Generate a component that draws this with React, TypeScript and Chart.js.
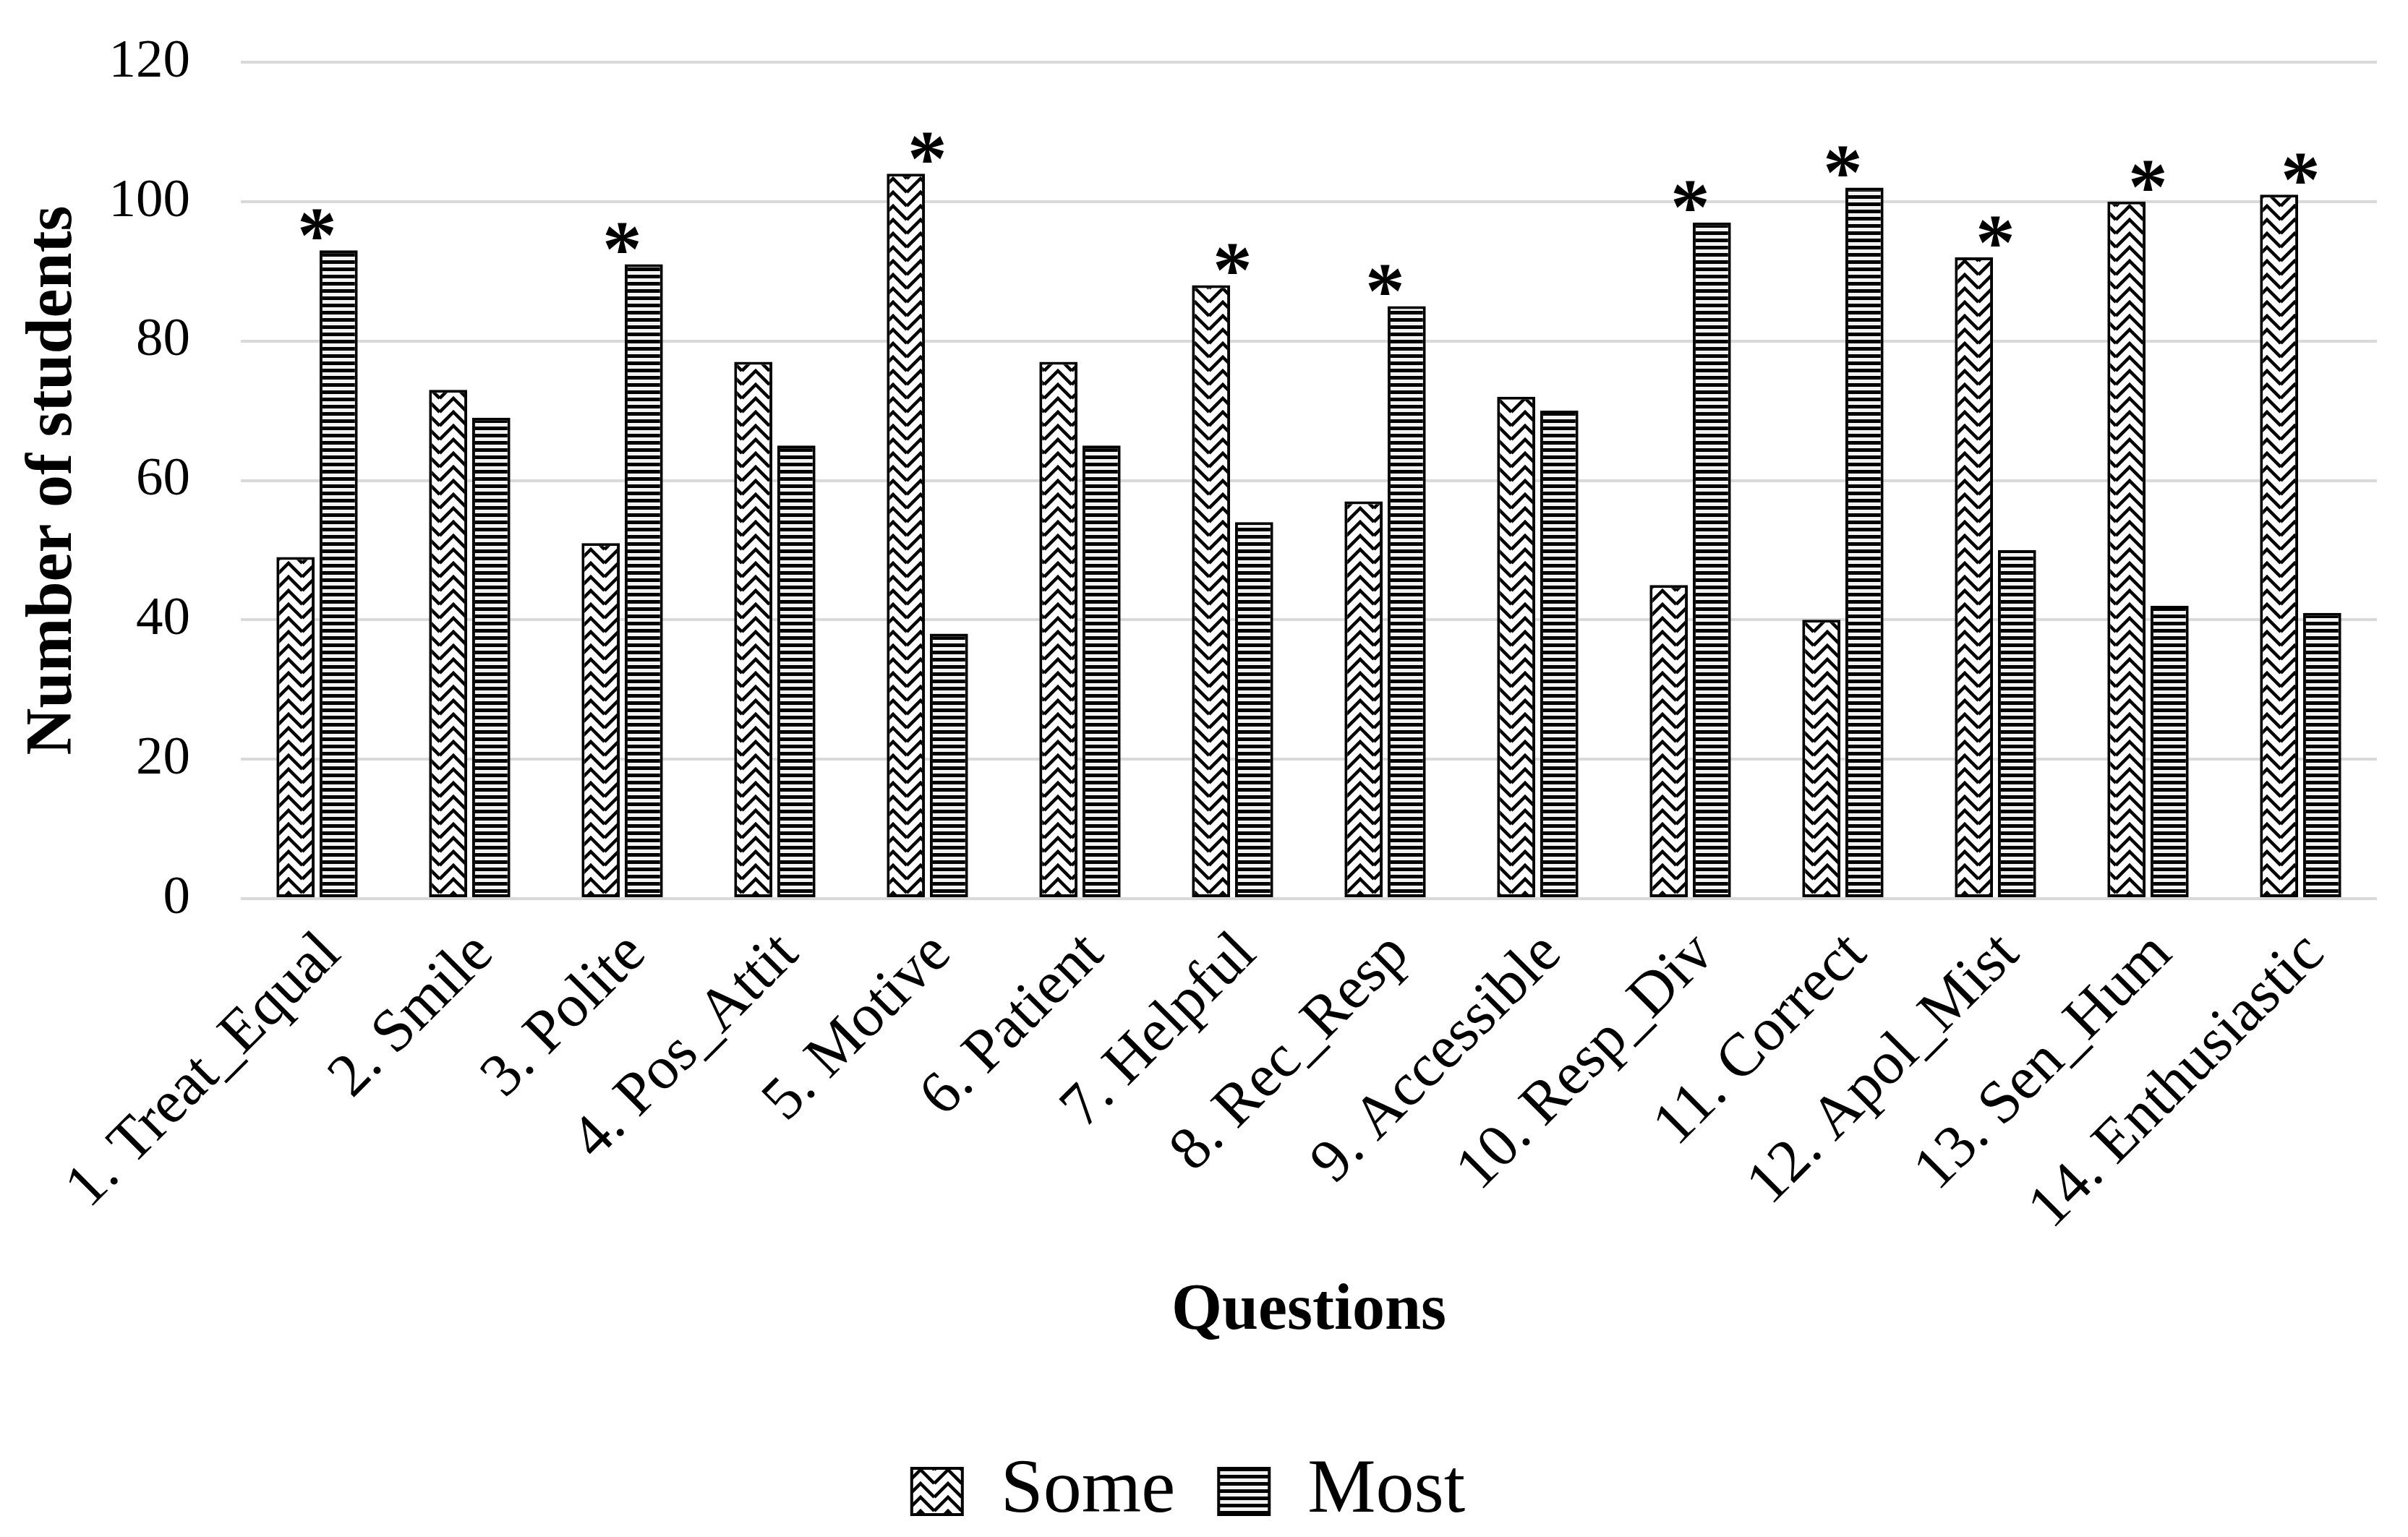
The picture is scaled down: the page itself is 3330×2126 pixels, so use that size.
import React, { useEffect, useRef } from "react";
import { Chart, registerables } from "chart.js";

Chart.register(...registerables);

// ---- data ----
const categories = [
  "1. Treat_Equal",
  "2. Smile",
  "3. Polite",
  "4. Pos_Attit",
  "5. Motive",
  "6. Patient",
  "7. Helpful",
  "8. Rec_Resp",
  "9. Accessible",
  "10. Resp_Div",
  "11. Correct",
  "12. Apol_Mist",
  "13. Sen_Hum",
  "14. Enthusiastic",
];
const seriesNames = ["Some", "Most"];
const someValues = [49, 73, 51, 77, 104, 77, 88, 57, 72, 45, 40, 92, 100, 101];
const mostValues = [93, 69, 91, 65, 38, 65, 54, 85, 70, 97, 102, 50, 42, 41];
const significant = [true, false, true, false, true, false, true, true, false, true, true, true, true, true];
const yTicks = [0, 20, 40, 60, 80, 100, 120];
const xTitle = "Questions";
const yTitle = "Number of students";
const markText = "*";

// ---- layout constants ----
const W = 3330;
const H = 2126;
const PLOT_LEFT = 333;
const PLOT_RIGHT = 3287;
const PLOT_TOP = 86;
const PLOT_BOTTOM = 1243;
const LEGEND_FONT = 106;
const LEGEND_PAD = 60;
const LEGEND_H = LEGEND_FONT + LEGEND_PAD + 10;
const XAXIS_H = H - LEGEND_H - PLOT_BOTTOM;
const FAMILY = "'Liberation Serif', 'Times New Roman', serif";

function makeZigzag(): CanvasPattern | string {
  const tw = 38;
  const th = 19;
  const c = document.createElement("canvas");
  c.width = tw;
  c.height = th;
  const g = c.getContext("2d");
  if (!g) return "#fff";
  g.fillStyle = "#fff";
  g.fillRect(0, 0, tw, th);
  g.strokeStyle = "#000";
  g.lineWidth = 4.5;
  g.lineJoin = "miter";
  for (const dx of [-tw, 0, tw]) {
    for (const dy of [-th, 0, th]) {
      g.beginPath();
      g.moveTo(dx + 0, dy + th);
      g.lineTo(dx + tw / 2, dy + 0);
      g.lineTo(dx + tw, dy + th);
      g.stroke();
    }
  }
  const p = g.createPattern(c, "repeat");
  return p || "#fff";
}

function makeStripes(): CanvasPattern | string {
  const tw = 10;
  const th = 10;
  const c = document.createElement("canvas");
  c.width = tw;
  c.height = th;
  const g = c.getContext("2d");
  if (!g) return "#000";
  g.fillStyle = "#f2f2f2";
  g.fillRect(0, 0, tw, th);
  g.fillStyle = "#000";
  g.fillRect(0, 0, tw, 5);
  const p = g.createPattern(c, "repeat");
  return p || "#000";
}

const asteriskPlugin = {
  id: "asterisks",
  afterDatasetsDraw(chart: any) {
    const { ctx, scales } = chart;
    const xs = scales.x;
    ctx.save();
    const base = 100;
    ctx.font = `bold ${base}px ${FAMILY}`;
    let m = ctx.measureText(markText);
    const gw = m.actualBoundingBoxLeft + m.actualBoundingBoxRight || 40;
    const size = (base * 46) / gw;
    ctx.font = `bold ${size}px ${FAMILY}`;
    m = ctx.measureText(markText);
    ctx.fillStyle = "#000";
    ctx.textAlign = "left";
    ctx.textBaseline = "alphabetic";
    significant.forEach((sig, i) => {
      if (!sig) return;
      const di = someValues[i] >= mostValues[i] ? 0 : 1;
      const el = chart.getDatasetMeta(di).data[i];
      const top = el.y;
      const cx = xs.getPixelForValue(i);
      const gx = cx - (m.actualBoundingBoxRight - m.actualBoundingBoxLeft) / 2;
      const by = top + 13 - m.actualBoundingBoxDescent;
      ctx.fillText(markText, gx, by);
    });
    ctx.restore();
  },
};

export default function App() {
  const ref = useRef<HTMLCanvasElement | null>(null);

  useEffect(() => {
    if (!ref.current) return;
    Chart.defaults.font.family = FAMILY;
    Chart.defaults.color = "#000";
    const zig = makeZigzag();
    const stripes = makeStripes();
    const chart = new Chart(ref.current, {
      type: "bar",
      data: {
        labels: categories,
        datasets: [
          {
            label: seriesNames[0],
            data: someValues,
            backgroundColor: zig as any,
            borderColor: "#000",
            borderWidth: 4,
            borderSkipped: false,
            categoryPercentage: 0.565,
            barPercentage: 0.885,
          },
          {
            label: seriesNames[1],
            data: mostValues,
            backgroundColor: stripes as any,
            borderColor: "#000",
            borderWidth: 4,
            borderSkipped: false,
            categoryPercentage: 0.565,
            barPercentage: 0.885,
          },
        ],
      },
      options: {
        responsive: false,
        animation: false,
        devicePixelRatio: 1,
        layout: {
          padding: { left: 0, right: W - PLOT_RIGHT, top: PLOT_TOP, bottom: 0 },
        },
        plugins: {
          legend: {
            position: "bottom",
            labels: {
              font: { size: LEGEND_FONT, family: FAMILY },
              color: "#000",
              boxWidth: 70,
              boxHeight: 64,
              padding: LEGEND_PAD,
            },
          },
          tooltip: { enabled: false },
        },
        scales: {
          x: {
            grid: { display: false, drawTicks: false },
            border: { display: false },
            ticks: {
              autoSkip: false,
              maxRotation: 45,
              minRotation: 45,
              padding: 28,
              labelOffset: 20,
              font: { size: 84, family: FAMILY },
              color: "#000",
            },
            title: {
              display: true,
              text: xTitle,
              font: { size: 90, weight: "bold", lineHeight: 1, family: FAMILY },
              padding: { top: 0, bottom: 90 },
              color: "#000",
            },
            afterFit: (s: any) => {
              s.height = XAXIS_H;
            },
          },
          y: {
            min: yTicks[0],
            max: yTicks[yTicks.length - 1],
            afterBuildTicks: (s: any) => {
              s.ticks = yTicks.map((v) => ({ value: v }));
            },
            ticks: {
              padding: 70,
              font: { size: 75, family: FAMILY },
              color: "#000",
            },
            grid: { color: "#d9d9d9", lineWidth: 4, drawTicks: false },
            border: { display: false },
            title: {
              display: true,
              text: yTitle,
              font: { size: 90, weight: "bold", lineHeight: 1, family: FAMILY },
              padding: { top: 30, bottom: 0 },
              color: "#000",
            },
            afterFit: (s: any) => {
              s.width = PLOT_LEFT;
              s.paddingTop = 0;
              s.paddingBottom = 0;
            },
          },
        },
      } as any,
      plugins: [asteriskPlugin],
    });
    return () => chart.destroy();
  }, []);

  return (
    <div
      style={{
        position: "absolute",
        left: 0,
        top: 0,
        width: W,
        height: H,
        background: "#fff",
      }}
    >
      <canvas ref={ref} width={W} height={H} style={{ display: "block", width: W, height: H }} />
    </div>
  );
}
